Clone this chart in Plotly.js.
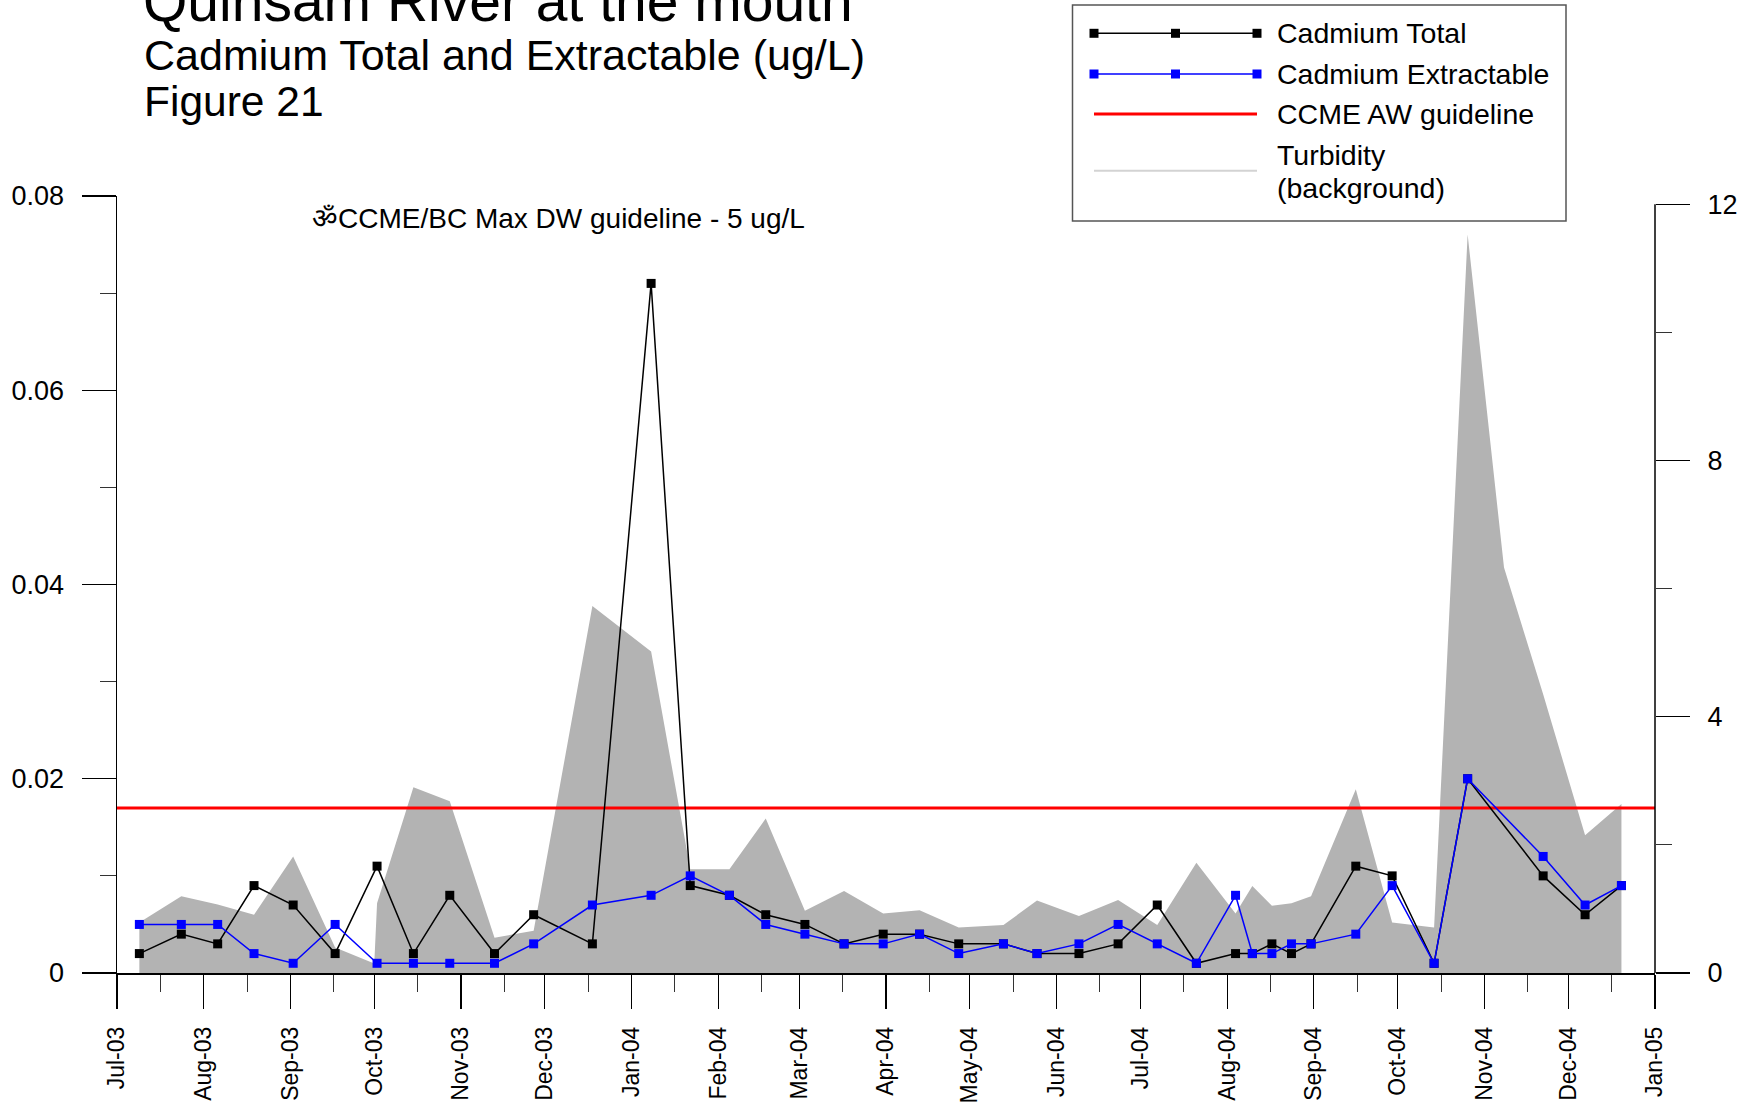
<!DOCTYPE html>
<html>
<head>
<meta charset="utf-8">
<script src="https://cdn.plot.ly/plotly-3.0.1.min.js"></script>
<style>
html,body{margin:0;padding:0;background:#fff;}
#chart{width:1756px;height:1104px;}
</style>
</head>
<body>
<div id="chart"></div>
<script>
// ---------------- data ----------------
const sampleDates = [
  '2003-07-09','2003-07-24','2003-08-06','2003-08-19','2003-09-02','2003-09-17',
  '2003-10-02','2003-10-15','2003-10-28','2003-11-13','2003-11-27','2003-12-18',
  '2004-01-08','2004-01-22','2004-02-05','2004-02-18','2004-03-03','2004-03-17',
  '2004-03-31','2004-04-13','2004-04-27','2004-05-13','2004-05-25','2004-06-09',
  '2004-06-23','2004-07-07','2004-07-21','2004-08-04','2004-08-10','2004-08-17',
  '2004-08-24','2004-08-31','2004-09-16','2004-09-29','2004-10-14','2004-10-26',
  '2004-11-22','2004-12-07','2004-12-20'
];
const cadmiumTotal = [
  0.002,0.004,0.003,0.009,0.007,0.002,
  0.011,0.002,0.008,0.002,0.006,0.003,
  0.071,0.009,0.008,0.006,0.005,0.003,
  0.004,0.004,0.003,0.003,0.002,0.002,
  0.003,0.007,0.001,0.002,0.002,0.003,
  0.002,0.003,0.011,0.010,0.001,0.020,
  0.010,0.006,0.009
];
const cadmiumExtractable = [
  0.005,0.005,0.005,0.002,0.001,0.005,
  0.001,0.001,0.001,0.001,0.003,0.007,
  0.008,0.010,0.008,0.005,0.004,0.003,
  0.003,0.004,0.002,0.003,0.002,0.003,
  0.005,0.003,0.001,0.008,0.002,0.002,
  0.003,0.003,0.004,0.009,0.001,0.020,
  0.012,0.007,0.009
];
const turbidityDates = [
  '2003-07-09','2003-07-24','2003-08-06','2003-08-19','2003-09-02','2003-09-17',
  '2003-10-01','2003-10-02','2003-10-15','2003-10-28','2003-11-13','2003-11-27',
  '2003-12-18','2004-01-08','2004-01-22','2004-02-05','2004-02-18','2004-03-03',
  '2004-03-17','2004-03-31','2004-04-13','2004-04-27','2004-05-13','2004-05-25',
  '2004-06-09','2004-06-23','2004-07-07','2004-07-21','2004-08-04','2004-08-10',
  '2004-08-17','2004-08-24','2004-08-31','2004-09-16','2004-09-29','2004-10-14',
  '2004-10-26','2004-11-08','2004-11-22','2004-12-07','2004-12-20'
];
const turbidity = [
  0.79,1.20,1.07,0.91,1.82,0.40,
  0.15,1.09,2.90,2.68,0.55,0.66,
  5.73,5.02,1.62,1.62,2.41,0.97,
  1.28,0.93,0.98,0.71,0.75,1.13,
  0.89,1.14,0.75,1.72,0.93,1.36,
  1.05,1.09,1.20,2.87,0.79,0.71,
  11.53,6.33,4.35,2.15,2.64
];
const guidelineDates = ['2003-07-01','2005-01-01'];
const awGuideline = 0.017;
const xRange = ['2003-07-01','2005-01-01'];
const cadmiumRange = [0, 0.08];
const turbidityRange = [0, 12.13];
const turbidityAxisTop = 12;
const monthTickFormat = '%b-%y';

const titleLines = ['Quinsam River at the mouth','Cadmium Total and Extractable (ug/L)','Figure 21'];
const noteText = 'ॐCCME/BC Max DW guideline - 5 ug/L';
const legendNames = ['Cadmium Total','Cadmium Extractable','CCME AW guideline','Turbidity','(background)'];

// ---------------- layout helpers (pixel -> paper) ----------------
const L = 117, R = 1655, T = 196, B = 973;
const px = x => (x - L) / (R - L);
const py = y => (B - y) / (B - T);
const FONT = 'Liberation Sans, Arial, Helvetica, sans-serif';
const GRAY = 'rgb(179,179,179)';

const traces = [
  {
    x: turbidityDates, y: turbidity, xaxis: 'x', yaxis: 'y',
    type: 'scatter', mode: 'lines', fill: 'tozeroy',
    fillcolor: GRAY, line: {color: GRAY, width: 0}, hoverinfo: 'skip', name: 'Turbidity'
  },
  {
    x: guidelineDates, y: guidelineDates.map(() => awGuideline), xaxis: 'x', yaxis: 'y2',
    type: 'scatter', mode: 'lines', line: {color: '#ff0000', width: 3}, name: 'CCME AW guideline'
  },
  {
    x: sampleDates, y: cadmiumTotal, xaxis: 'x', yaxis: 'y2',
    type: 'scatter', mode: 'lines+markers',
    line: {color: '#000000', width: 1.5},
    marker: {symbol: 'square', size: 9, color: '#000000'}, name: 'Cadmium Total'
  },
  {
    x: sampleDates, y: cadmiumExtractable, xaxis: 'x', yaxis: 'y2',
    type: 'scatter', mode: 'lines+markers',
    line: {color: '#0000ff', width: 1.5},
    marker: {symbol: 'square', size: 9, color: '#0000ff'}, name: 'Cadmium Extractable'
  }
];

const shapes = [];
const annotations = [];

// right axis line up to 12
shapes.push({type: 'line', xref: 'paper', yref: 'y', x0: 1, x1: 1, y0: 0, y1: turbidityAxisTop,
  line: {color: '#000', width: 1.5}, layer: 'above'});

// legend box
shapes.push({type: 'rect', xref: 'paper', yref: 'paper', x0: px(1072.5), x1: px(1566), y0: py(221), y1: py(5),
  line: {color: '#555', width: 1.5}, fillcolor: '#ffffff', layer: 'above'});

function legendLine(y, color, width, markers) {
  shapes.push({type: 'line', xref: 'paper', yref: 'paper', x0: px(1094), x1: px(1257), y0: py(y), y1: py(y),
    line: {color: color, width: width}, layer: 'above'});
  if (markers) {
    [1094, 1175.5, 1257].forEach(cx => {
      shapes.push({type: 'rect', xref: 'paper', yref: 'paper', x0: px(cx - 4.5), x1: px(cx + 4.5),
        y0: py(y + 4.5), y1: py(y - 4.5), line: {width: 0}, fillcolor: color, layer: 'above'});
    });
  }
}
legendLine(33.3, '#000000', 1.5, true);
legendLine(74, '#0000ff', 1.5, true);
legendLine(114, '#ff0000', 3, false);
legendLine(170.7, '#d3d3d3', 2, false);

function textAt(text, x, yc, size, anchor) {
  annotations.push({text: text, xref: 'paper', yref: 'paper', x: px(x), y: py(yc),
    xanchor: anchor || 'left', yanchor: 'middle', showarrow: false,
    borderpad: 0, borderwidth: 0,
    font: {family: FONT, size: size, color: '#000'}});
}
textAt(legendNames[0], 1277, 33.3, 28.5);
textAt(legendNames[1], 1277, 74, 28.5);
textAt(legendNames[2], 1277, 114, 28.5);
textAt(legendNames[3], 1277, 155, 28.5);
textAt(legendNames[4], 1277, 188.3, 28.5);

// titles (baseline -> bbox centre = baseline - 0.3465*size)
textAt(titleLines[0], 143, 20.7 - 0.3465 * 57, 57);
textAt(titleLines[1], 144, 70 - 0.3465 * 43, 43);
textAt(titleLines[2], 144, 116.7 - 0.3465 * 42.5, 42.5);

textAt(noteText, 312, 218, 28);

const yTickFont = {family: FONT, size: 27, color: '#000'};
const xTickFont = {family: FONT, size: 23, color: '#000'};

const layout = {
  width: 1756, height: 1104,
  margin: {l: L, r: 1756 - R, t: T, b: 1104 - B, pad: 0},
  paper_bgcolor: '#ffffff', plot_bgcolor: '#ffffff',
  showlegend: false,
  font: {family: FONT, size: 27, color: '#000'},
  xaxis: {
    type: 'date', range: xRange, automargin: false,
    tickmode: 'linear', tick0: xRange[0], dtick: 'M1', tickformat: monthTickFormat,
    tickangle: -90, ticks: 'outside', ticklen: 34, tickwidth: 1.2, tickcolor: '#000',
    ticklabelstandoff: 9,
    showline: true, linecolor: '#000', linewidth: 1.5,
    showgrid: false, zeroline: false, tickfont: xTickFont,
    minor: {tickmode: 'linear', tick0: '2003-07-16 12:00', dtick: 'M1', ticks: 'outside',
      ticklen: 17, tickwidth: 1, tickcolor: '#333', showgrid: false}
  },
  yaxis: {
    side: 'right', range: turbidityRange, automargin: false,
    tickmode: 'linear', tick0: 0, dtick: 4,
    ticks: 'outside', ticklen: 34, tickwidth: 1.2, tickcolor: '#000',
    ticklabelstandoff: 12,
    showline: false, showgrid: false, zeroline: false, tickfont: yTickFont,
    minor: {tickmode: 'linear', tick0: 0, dtick: 2, ticks: 'outside', ticklen: 16,
      tickwidth: 1, tickcolor: '#333', showgrid: false}
  },
  yaxis2: {
    overlaying: 'y', side: 'left', range: cadmiumRange, automargin: false,
    tickmode: 'linear', tick0: 0, dtick: 0.02,
    ticks: 'outside', ticklen: 34, tickwidth: 1.2, tickcolor: '#000',
    ticklabelstandoff: 12,
    showline: true, linecolor: '#000', linewidth: 1.5,
    showgrid: false, zeroline: false, tickfont: yTickFont,
    minor: {tickmode: 'linear', tick0: 0, dtick: 0.01, ticks: 'outside', ticklen: 16,
      tickwidth: 1, tickcolor: '#333', showgrid: false}
  },
  shapes: shapes,
  annotations: annotations
};

Plotly.newPlot('chart', traces, layout, {displayModeBar: false, staticPlot: true});
</script>
</body>
</html>
